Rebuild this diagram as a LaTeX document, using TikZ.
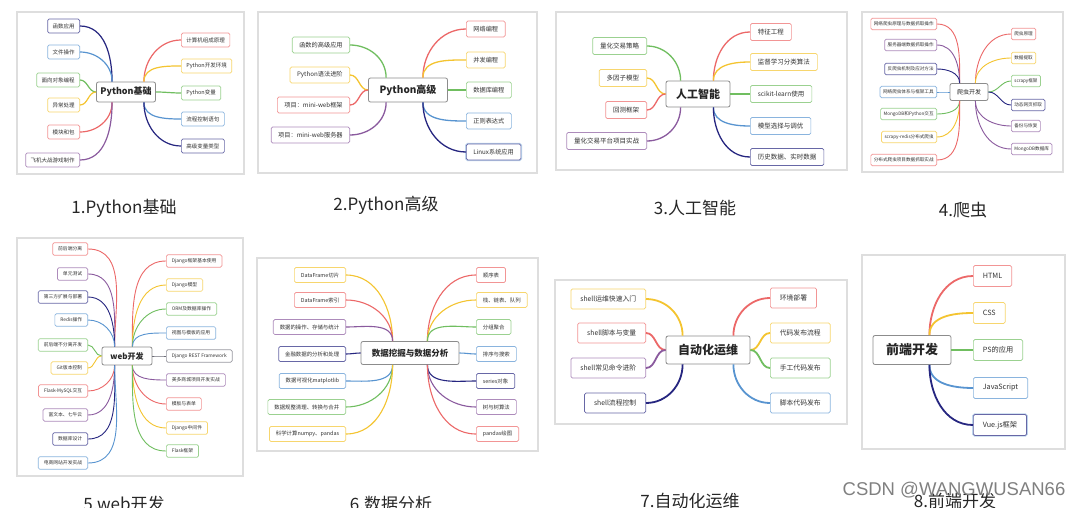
\documentclass[tikz,border=0pt]{standalone}
\usepackage{fontspec}
\setmainfont{Noto Sans CJK SC}
\newfontfamily\wmfont{Liberation Sans}
\definecolor{mmred}{RGB}{236,104,104}
\definecolor{mmyellow}{RGB}{244,196,48}
\definecolor{mmgreen}{RGB}{112,190,96}
\definecolor{mmblue}{RGB}{88,148,208}
\definecolor{mmnavy}{RGB}{38,38,128}
\definecolor{mmpurple}{RGB}{138,90,158}
\definecolor{mmgray}{RGB}{110,110,120}

\begin{document}
\begin{tikzpicture}[
  x=1pt, y=1pt,
  card/.style={draw=black!13, fill=white, line width=1.4pt},
  hub/.style={rectangle, draw=black!45, fill=white, rounded corners=2pt, line width=0.8pt, text=black!85, inner sep=1pt},
  leaf/.style={rectangle, draw=#1!70!white, fill=white, rounded corners=1.5pt, line width=0.7pt, text=black!80, inner ysep=0pt},
  glow/.style={preaction={draw=mmblue!40, line width=2.4pt}},
  caption/.style={font=\fontsize{17}{20}\selectfont, text=black!85},
  wmark/.style={font=\wmfont\fontsize{18.5}{20}\selectfont, text=black!50},
  lup/.style={out=90, in=0}, ldn/.style={out=270, in=0}, lmid/.style={out=180, in=0},
  rup/.style={out=90, in=180}, rdn/.style={out=270, in=180}, rmid/.style={out=0, in=180},
]
\useasboundingbox (0,0) rectangle (1073,-508);

% ---- cards ----
\draw[card] (17,-12)  rectangle (244,-174);
\draw[card] (258,-12) rectangle (537,-173);
\draw[card] (556,-12) rectangle (847,-170);
\draw[card] (862,-12) rectangle (1063,-172);
\draw[card] (17,-238) rectangle (243,-476);
\draw[card] (257,-258) rectangle (538,-451);
\draw[card] (555,-280) rectangle (847,-424);
\draw[card] (862,-255) rectangle (1065,-449);

% ---- 1. Python basics ----
\begin{scope}[every node/.append style={font=\fontsize{5.5}{6}\selectfont, minimum height=14pt, inner xsep=5pt}, line width=1.2pt]
\node[hub, font=\fontsize{9}{10}\selectfont\bfseries, minimum width=59pt, minimum height=20pt] (p1c) at (126,-92) {Python基础};
\node[leaf=mmnavy, anchor=east]   (p1l1) at (80,-26)  {函数应用};
\node[leaf=mmblue, anchor=east]   (p1l2) at (80,-52)  {文件操作};
\node[leaf=mmgreen, anchor=east]  (p1l3) at (80,-80)  {面向对象编程};
\node[leaf=mmyellow, anchor=east] (p1l4) at (80,-105) {异常处理};
\node[leaf=mmred, anchor=east]    (p1l5) at (80,-132) {模块和包};
\node[leaf=mmpurple, anchor=east] (p1l6) at (80,-160) {飞机大战游戏制作};
\node[leaf=mmred, anchor=west]    (p1r1) at (181,-40)  {计算机组成原理};
\node[leaf=mmyellow, anchor=west] (p1r2) at (181,-66)  {Python开发环境};
\node[leaf=mmgreen, anchor=west]  (p1r3) at (181,-93)  {Python变量};
\node[leaf=mmblue, anchor=west]   (p1r4) at (181,-119) {流程控制语句};
\node[leaf=mmnavy, anchor=west]   (p1r5) at (181,-146) {高级变量类型};
\coordinate (p1lu) at ([xshift=16pt]p1c.north west);
\coordinate (p1ld) at ([xshift=16pt]p1c.south west);
\coordinate (p1ru) at ([xshift=-12pt]p1c.north east);
\coordinate (p1rd) at ([xshift=-12pt]p1c.south east);
\foreach \b/\c in {l1/mmnavy, l2/mmblue} \draw[draw=\c] (p1lu) to[lup] (p1\b);
\foreach \b/\c in {l3/mmgreen, l4/mmyellow} \draw[draw=\c] (p1c) to[lmid] (p1\b);
\foreach \b/\c in {l5/mmred, l6/mmpurple} \draw[draw=\c] (p1ld) to[ldn] (p1\b);
\foreach \b/\c in {r1/mmred, r2/mmyellow} \draw[draw=\c] (p1ru) to[rup] (p1\b);
\draw[draw=mmgreen] (p1c) to[rmid] (p1r3);
\foreach \b/\c in {r4/mmblue, r5/mmnavy} \draw[draw=\c] (p1rd) to[rdn] (p1\b);
\end{scope}

% ---- 2. Python advanced ----
\begin{scope}[every node/.append style={font=\fontsize{6.2}{7}\selectfont, minimum height=16pt, inner xsep=7pt}, line width=1.3pt]
\node[hub, font=\fontsize{10}{12}\selectfont\bfseries, minimum width=79pt, minimum height=24pt] (p2c) at (408,-90) {Python高级};
\node[leaf=mmgreen, anchor=east]  (p2l1) at (350,-45)  {函数的高级应用};
\node[leaf=mmyellow, anchor=east] (p2l2) at (350,-75)  {Python语法进阶};
\node[leaf=mmred, anchor=east]    (p2l3) at (350,-105) {项目：mini-web框架};
\node[leaf=mmpurple, anchor=east] (p2l4) at (350,-135) {项目：mini-web服务器};
\node[leaf=mmred, anchor=west]    (p2r1) at (466,-29)  {网络编程};
\node[leaf=mmyellow, anchor=west] (p2r2) at (466,-60)  {并发编程};
\node[leaf=mmgreen, anchor=west]  (p2r3) at (466,-90)  {数据库编程};
\node[leaf=mmblue, anchor=west]   (p2r4) at (466,-121) {正则表达式};
\node[leaf=mmnavy, glow, anchor=west] (p2r5) at (466,-152) {Linux系统应用};
\coordinate (p2lu) at ([xshift=18pt]p2c.north west);
\coordinate (p2ld) at ([xshift=18pt]p2c.south west);
\coordinate (p2ru) at ([xshift=-25pt]p2c.north east);
\coordinate (p2rd) at ([xshift=-25pt]p2c.south east);
\draw[draw=mmgreen] (p2lu) to[lup] (p2l1);
\foreach \b/\c in {l2/mmyellow, l3/mmred} \draw[draw=\c] (p2c) to[lmid] (p2\b);
\draw[draw=mmpurple] (p2ld) to[ldn] (p2l4);
\foreach \b/\c in {r1/mmred, r2/mmyellow} \draw[draw=\c] (p2ru) to[rup] (p2\b);
\draw[draw=mmgreen] (p2c) to[rmid] (p2r3);
\foreach \b/\c in {r4/mmblue, r5/mmnavy} \draw[draw=\c] (p2rd) to[rdn] (p2\b);
\end{scope}

% ---- 3. AI ----
\begin{scope}[every node/.append style={font=\fontsize{6.5}{7}\selectfont, minimum height=17pt, inner xsep=7.5pt}, line width=1.3pt]
\node[hub, font=\fontsize{11}{13}\selectfont\bfseries, minimum width=64pt, minimum height=26pt] (p3c) at (698,-94) {人工智能};
\node[leaf=mmgreen, anchor=east]  (p3l1) at (647,-46)  {量化交易策略};
\node[leaf=mmyellow, anchor=east] (p3l2) at (647,-78)  {多因子模型};
\node[leaf=mmred, anchor=east]    (p3l3) at (647,-110) {回测框架};
\node[leaf=mmpurple, anchor=east] (p3l4) at (647,-141) {量化交易平台项目实战};
\node[leaf=mmred, anchor=west]    (p3r1) at (750,-32)  {特征工程};
\node[leaf=mmyellow, anchor=west] (p3r2) at (750,-62)  {监督学习分类算法};
\node[leaf=mmgreen, anchor=west]  (p3r3) at (750,-94)  {scikit-learn使用};
\node[leaf=mmblue, anchor=west]   (p3r4) at (750,-126) {模型选择与调优};
\node[leaf=mmnavy, anchor=west]   (p3r5) at (750,-157) {历史数据、实时数据};
\coordinate (p3lu) at ([xshift=15pt]p3c.north west);
\coordinate (p3ld) at ([xshift=15pt]p3c.south west);
\coordinate (p3ru) at ([xshift=-17pt]p3c.north east);
\coordinate (p3rd) at ([xshift=-17pt]p3c.south east);
\draw[draw=mmgreen] (p3lu) to[lup] (p3l1);
\foreach \b/\c in {l2/mmyellow, l3/mmred} \draw[draw=\c] (p3c) to[lmid] (p3\b);
\draw[draw=mmpurple] (p3ld) to[ldn] (p3l4);
\foreach \b/\c in {r1/mmred, r2/mmyellow} \draw[draw=\c] (p3ru) to[rup] (p3\b);
\draw[draw=mmgreen] (p3c) to[rmid] (p3r3);
\foreach \b/\c in {r4/mmblue, r5/mmnavy} \draw[draw=\c] (p3rd) to[rdn] (p3\b);
\end{scope}

% ---- 4. crawler ----
\begin{scope}[every node/.append style={font=\fontsize{4.6}{5}\selectfont, minimum height=11.5pt, inner xsep=3pt}, line width=0.9pt]
\node[hub, font=\fontsize{6}{7}\selectfont, minimum width=38pt, minimum height=17pt] (p4c) at (969,-92) {爬虫开发};
\node[leaf=mmred, anchor=east]    (p4l1) at (937,-24)  {网络爬虫原理与数据抓取操作};
\node[leaf=mmpurple, anchor=east] (p4l2) at (937,-45)  {服务器端数据抓取操作};
\node[leaf=mmnavy, anchor=east]   (p4l3) at (937,-69)  {反爬虫机制及应对方法};
\node[leaf=mmblue, anchor=east]   (p4l4) at (937,-92)  {网络爬虫体系与框架工具};
\node[leaf=mmgreen, anchor=east]  (p4l5) at (937,-114) {MongoDB和Python交互};
\node[leaf=mmyellow, anchor=east] (p4l6) at (937,-137) {scrapy-redis分布式爬虫};
\node[leaf=mmred, anchor=east]    (p4l7) at (937,-160) {分布式爬虫项目数据抓取实战};
\node[leaf=mmred, anchor=west]    (p4r1) at (1011,-34)  {爬虫原理};
\node[leaf=mmyellow, anchor=west] (p4r2) at (1011,-58)  {数据提取};
\node[leaf=mmgreen, anchor=west]  (p4r3) at (1011,-81)  {scrapy框架};
\node[leaf=mmnavy, anchor=west]   (p4r4) at (1011,-105) {动态网页抓取};
\node[leaf=mmpurple, anchor=west] (p4r5) at (1011,-126) {备份与恢复};
\node[leaf=mmpurple, anchor=west] (p4r6) at (1011,-149) {MongoDB数据库};
\coordinate (p4lu) at ([xshift=10pt]p4c.north west);
\coordinate (p4ld) at ([xshift=10pt]p4c.south west);
\coordinate (p4ru) at ([xshift=-13pt]p4c.north east);
\coordinate (p4rd) at ([xshift=-13pt]p4c.south east);
\foreach \b/\c in {l1/mmred, l2/mmpurple, l3/mmnavy} \draw[draw=\c] (p4lu) to[lup] (p4\b);
\draw[draw=mmblue] (p4c) to[lmid] (p4l4);
\foreach \b/\c in {l5/mmgreen, l6/mmyellow, l7/mmred} \draw[draw=\c] (p4ld) to[ldn] (p4\b);
\foreach \b/\c in {r1/mmred, r2/mmyellow} \draw[draw=\c] (p4ru) to[rup] (p4\b);
\foreach \b/\c in {r3/mmgreen, r4/mmnavy} \draw[draw=\c] (p4c) to[rmid] (p4\b);
\foreach \b/\c in {r5/mmpurple, r6/mmpurple} \draw[draw=\c] (p4rd) to[rdn] (p4\b);
\end{scope}

% ---- 5. web ----
\begin{scope}[every node/.append style={font=\fontsize{4.8}{5}\selectfont, minimum height=12.5pt, inner xsep=5.5pt}, line width=0.9pt]
\node[hub, font=\fontsize{8}{9}\selectfont\bfseries, minimum width=50pt, minimum height=18pt] (p5c) at (127,-356) {web开发};
\node[leaf=mmred, anchor=east]    (p5l1)  at (88,-249) {前后端分离};
\node[leaf=mmpurple, anchor=east] (p5l2)  at (88,-274) {单元测试};
\node[leaf=mmnavy, anchor=east]   (p5l3)  at (88,-297) {第三方扩展与部署};
\node[leaf=mmblue, anchor=east]   (p5l4)  at (88,-320) {Redis操作};
\node[leaf=mmgreen, anchor=east]  (p5l5)  at (88,-345) {前后端不分离开发};
\node[leaf=mmyellow, anchor=east] (p5l6)  at (88,-368) {Git版本控制};
\node[leaf=mmred, anchor=east]    (p5l7)  at (88,-391) {Flask-MySQL交互};
\node[leaf=mmpurple, anchor=east] (p5l8)  at (88,-415) {富文本、七牛云};
\node[leaf=mmnavy, anchor=east]   (p5l9)  at (88,-439) {数据库设计};
\node[leaf=mmblue, anchor=east]   (p5l10) at (88,-463) {电商网站开发实战};
\node[leaf=mmred, anchor=west]    (p5r1) at (166,-261) {Django框架基本使用};
\node[leaf=mmyellow, anchor=west] (p5r2) at (166,-285) {Django模型};
\node[leaf=mmgreen, anchor=west]  (p5r3) at (166,-309) {ORM及数据库操作};
\node[leaf=mmblue, anchor=west]   (p5r4) at (166,-333) {视图与模板的应用};
\node[leaf=mmgray, anchor=west]   (p5r5) at (166,-356) {Django REST Framework};
\node[leaf=mmpurple, anchor=west] (p5r6) at (166,-380) {美多商城项目开发实战};
\node[leaf=mmred, anchor=west]    (p5r7) at (166,-404) {模板与表单};
\node[leaf=mmyellow, anchor=west] (p5r8) at (166,-428) {Django中间件};
\node[leaf=mmgreen, anchor=west]  (p5r9) at (166,-451) {Flask框架};
\coordinate (p5lu) at ([xshift=13pt]p5c.north west);
\coordinate (p5ld) at ([xshift=13pt]p5c.south west);
\coordinate (p5ru) at ([xshift=-20pt]p5c.north east);
\coordinate (p5rd) at ([xshift=-20pt]p5c.south east);
\foreach \b/\c in {l1/mmred, l2/mmpurple, l3/mmnavy, l4/mmblue} \draw[draw=\c] (p5lu) to[lup] (p5\b);
\foreach \b/\c in {l5/mmgreen, l6/mmyellow} \draw[draw=\c] (p5c) to[lmid] (p5\b);
\foreach \b/\c in {l7/mmred, l8/mmpurple, l9/mmnavy, l10/mmblue} \draw[draw=\c] (p5ld) to[ldn] (p5\b);
\foreach \b/\c in {r1/mmred, r2/mmyellow, r3/mmgreen, r4/mmblue} \draw[draw=\c] (p5ru) to[rup] (p5\b);
\draw[draw=mmgray] (p5c) to[rmid] (p5r5);
\foreach \b/\c in {r6/mmpurple, r7/mmred, r8/mmyellow, r9/mmgreen} \draw[draw=\c] (p5rd) to[rdn] (p5\b);
\end{scope}

% ---- 6. data analysis ----
\begin{scope}[every node/.append style={font=\fontsize{5.4}{6}\selectfont, minimum height=15pt, inner xsep=6.5pt}, line width=1.1pt]
\node[hub, font=\fontsize{8.5}{10}\selectfont\bfseries, minimum width=98pt, minimum height=23pt] (p6c) at (410,-353) {数据挖掘与数据分析};
\node[leaf=mmyellow, anchor=east] (p6l1) at (346,-275) {DataFrame切片};
\node[leaf=mmred, anchor=east]    (p6l2) at (346,-300) {DataFrame索引};
\node[leaf=mmpurple, anchor=east] (p6l3) at (346,-327) {数据的操作、存储与统计};
\node[leaf=mmnavy, anchor=east]   (p6l4) at (346,-354) {金融数据的分析和处理};
\node[leaf=mmblue, anchor=east]   (p6l5) at (346,-381) {数据可视化matplotlib};
\node[leaf=mmgreen, anchor=east]  (p6l6) at (346,-407) {数据规整清理、转换与合并};
\node[leaf=mmyellow, anchor=east] (p6l7) at (346,-434) {科学计算numpy、pandas};
\node[leaf=mmred, anchor=west]    (p6r1) at (476,-275) {顺序表};
\node[leaf=mmyellow, anchor=west] (p6r2) at (476,-300) {栈、链表、队列};
\node[leaf=mmgreen, anchor=west]  (p6r3) at (476,-327) {分组聚合};
\node[leaf=mmblue, anchor=west]   (p6r4) at (476,-354) {排序与搜索};
\node[leaf=mmnavy, anchor=west]   (p6r5) at (476,-381) {series对象};
\node[leaf=mmpurple, anchor=west] (p6r6) at (476,-407) {树与树算法};
\node[leaf=mmred, anchor=west]    (p6r7) at (476,-434) {pandas绘图};
\coordinate (p6lu) at ([xshift=32pt]p6c.north west);
\coordinate (p6ld) at ([xshift=32pt]p6c.south west);
\coordinate (p6ru) at ([xshift=-32pt]p6c.north east);
\coordinate (p6rd) at ([xshift=-32pt]p6c.south east);
\foreach \b/\c in {l1/mmyellow, l2/mmred, l3/mmpurple} \draw[draw=\c] (p6lu) to[lup] (p6\b);
\draw[draw=mmnavy] (p6c) to[lmid] (p6l4);
\foreach \b/\c in {l5/mmblue, l6/mmgreen, l7/mmyellow} \draw[draw=\c] (p6ld) to[ldn] (p6\b);
\foreach \b/\c in {r1/mmred, r2/mmyellow, r3/mmgreen} \draw[draw=\c] (p6ru) to[rup] (p6\b);
\draw[draw=mmblue] (p6c) to[rmid] (p6r4);
\foreach \b/\c in {r5/mmnavy, r6/mmpurple, r7/mmred} \draw[draw=\c] (p6rd) to[rdn] (p6\b);
\end{scope}

% ---- 7. ops automation ----
\begin{scope}[every node/.append style={font=\fontsize{6.8}{8}\selectfont, minimum height=20pt, inner xsep=9.5pt}, line width=1.8pt]
\node[hub, font=\fontsize{12}{14}\selectfont\bfseries, minimum width=84pt, minimum height=28pt] (p7c) at (708,-350) {自动化运维};
\node[leaf=mmyellow, anchor=east] (p7l1) at (646,-299) {shell运维快速入门};
\node[leaf=mmred, anchor=east]    (p7l2) at (646,-333) {shell脚本与变量};
\node[leaf=mmpurple, anchor=east] (p7l3) at (646,-368) {shell常见命令进阶};
\node[leaf=mmnavy, anchor=east]   (p7l4) at (646,-403) {shell流程控制};
\node[leaf=mmred, anchor=west]    (p7r1) at (770,-298) {环境部署};
\node[leaf=mmyellow, anchor=west] (p7r2) at (770,-333) {代码发布流程};
\node[leaf=mmgreen, anchor=west]  (p7r3) at (770,-368) {手工代码发布};
\node[leaf=mmblue, anchor=west]   (p7r4) at (770,-403) {脚本代码发布};
\coordinate (p7lu) at ([xshift=17pt]p7c.north west);
\coordinate (p7ld) at ([xshift=17pt]p7c.south west);
\coordinate (p7ru) at ([xshift=-17pt]p7c.north east);
\coordinate (p7rd) at ([xshift=-17pt]p7c.south east);
\draw[draw=mmyellow] (p7lu) to[lup] (p7l1);
\foreach \b/\c in {l2/mmred, l3/mmpurple} \draw[draw=\c] (p7c) to[lmid] (p7\b);
\draw[draw=mmnavy] (p7ld) to[ldn] (p7l4);
\draw[draw=mmred] (p7ru) to[rup] (p7r1);
\foreach \b/\c in {r2/mmyellow, r3/mmgreen} \draw[draw=\c] (p7c) to[rmid] (p7\b);
\draw[draw=mmblue] (p7rd) to[rdn] (p7r4);
\end{scope}

% ---- 8. front end ----
\begin{scope}[every node/.append style={font=\fontsize{7.2}{8}\selectfont, minimum height=21pt, inner xsep=9.5pt}, line width=1.8pt]
\node[hub, font=\fontsize{13}{15}\selectfont\bfseries, minimum width=78pt, minimum height=29pt] (p8c) at (912,-350) {前端开发};
\node[leaf=mmred, anchor=west]    (p8r1) at (973,-276) {HTML};
\node[leaf=mmyellow, anchor=west] (p8r2) at (973,-313) {CSS};
\node[leaf=mmgreen, anchor=west]  (p8r3) at (973,-350) {PS的应用};
\node[leaf=mmblue, anchor=west]   (p8r4) at (973,-388) {JavaScript};
\node[leaf=mmnavy, glow, anchor=west] (p8r5) at (973,-425) {Vue.js框架};
\coordinate (p8ru) at ([xshift=-22pt]p8c.north east);
\coordinate (p8rd) at ([xshift=-22pt]p8c.south east);
\foreach \b/\c in {r1/mmred, r2/mmyellow} \draw[draw=\c] (p8ru) to[rup] (p8\b);
\draw[draw=mmgreen] (p8c) to[rmid] (p8r3);
\foreach \b/\c in {r4/mmblue, r5/mmnavy} \draw[draw=\c] (p8rd) to[rdn] (p8\b);
\end{scope}

% ---- captions ----
\node[caption] (cap1) at (124,-208) {1.Python基础};
\node[caption] (cap2) at (386,-205) {2.Python高级};
\node[caption] (cap3) at (695,-208) {3.人工智能};
\node[caption] (cap4) at (963,-210) {4.爬虫};
\node[caption] (cap5) at (124,-504) {5.web开发};
\node[caption] (cap6) at (391,-504) {6.数据分析};
\node[caption] (cap7) at (690,-501) {7.自动化运维};
\node[caption] (cap8) at (955,-501) {8.前端开发};
\node[wmark] (wm) at (954,-490) {CSDN @WANGWUSAN66};

\end{tikzpicture}
\end{document}
